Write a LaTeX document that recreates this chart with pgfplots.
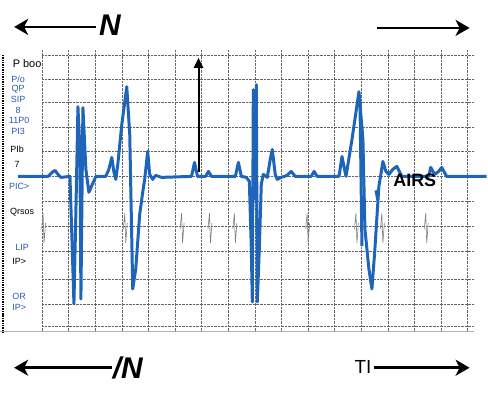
\documentclass[border=0pt]{standalone}
\usepackage{fontspec}
\setmainfont{Liberation Sans}
\usepackage{pgfplots}
\pgfplotsset{compat=1.18}
\usetikzlibrary{arrows.meta}
\definecolor{ecg}{RGB}{30,100,185}
\definecolor{lbl}{RGB}{40,90,175}
\begin{document}
\begin{tikzpicture}
\begin{axis}[
  scale only axis, width=433pt, height=282pt,
  xmin=42, xmax=475, ymin=74, ymax=356,
  axis line style={draw=none},
  xtick={42,68.7,95.4,122.1,148.8,175.5,202.2,228.9,255.6,282.3,309,335.7,362.4,389.1,415.8,442.5,469.2},
  ytick={79,101,126,154,179,204,229,254,278,303,326,350},
  xticklabels={}, yticklabels={},
  major tick length=0pt,
  grid=major,
  grid style={densely dotted, black!60, line width=0.7pt},
  clip=false,
  unbounded coords=jump,
]
\path (axis cs:0,0) rectangle (axis cs:488,406);
% faint background squiggles
\addplot[black!50, line width=0.6pt] coordinates {
(41.5,176) (43,192) (44,162) (45.5,182) (45.5,nan)
(123.5,176) (125,192) (126,162) (127.5,182) (127.5,nan)
(180.5,176) (182,192) (183,162) (184.5,182) (184.5,nan)
(208.5,176) (210,192) (211,162) (212.5,182) (212.5,nan)
(233.5,176) (235,192) (236,162) (237.5,182) (237.5,nan)
(306.5,176) (308,192) (309,162) (310.5,182) (310.5,nan)
(355.5,176) (357,192) (358,162) (359.5,182) (359.5,nan)
(381.5,176) (383,192) (384,162) (385.5,182) (385.5,nan)
(425.5,176) (427,192) (428,162) (429.5,182)
};
% main ECG trace
\addplot[ecg, line width=3pt, line join=round] coordinates {
(18,229) (48,229) (52,233) (55,235) (58,231) (61,228) (70,229)
(72,166) (74,101) (76,196) (78,299) (80,256) (81,106) (83,298) (86,236) (89,213) (92,220) (96,229)
(106,229) (109,236) (112,248) (114,234) (116,226) (118,241) (122,281) (127,319) (130,271) (133,116)
(136,136) (140,191) (143,213) (145,226) (148,254) (150,231) (153,226) (156,230) (162,228)
(192,229) (195,243) (198,229) (206,229) (209,234) (212,229) (236,229) (239,243) (242,229) (247,228)
(250,224) (252,156) (253,103) (254,316) (256,206) (257,321) (258,103) (260,156) (262,221) (264,231)
(268,228) (271,246) (273,256) (276,231) (278,226) (282,228) (288,230) (292,234) (296,229)
(312,229) (315,234) (318,229) (340,229) (343,249) (347,229) (353,266) (360,314) (364,266)
(366,176) (370,136) (373,116) (376,156) (380,219) (382,231) (384,244) (387,234) (390,231)
(394,236) (398,239) (403,229) (430,229) (432,238) (436,231) (440,234) (443,238) (448,229) (488,229)
};
\addplot[ecg, line width=3pt] coordinates {(361,306) (363,159)};
\addplot[ecg, line width=3pt] coordinates {(377,215) (379,205)};
% annotations
\draw[-{Triangle[length=10pt,width=9pt]}, line width=2pt] (axis cs:199,233) -- (axis cs:199,348);
\draw[-{Stealth[length=14pt,width=16pt,inset=4pt]}, line width=2.8pt] (axis cs:96,379) -- (axis cs:14,379);
\node at (axis cs:110,381) {\fontsize{30}{30}\selectfont\bfseries\itshape N};
\draw[-{Stealth[length=14pt,width=16pt,inset=4pt]}, line width=2.8pt] (axis cs:378,378) -- (axis cs:471,378);
\draw[-{Stealth[length=14pt,width=16pt,inset=4pt]}, line width=2.8pt] (axis cs:112,37) -- (axis cs:14,37);
\node at (axis cs:128,37) {\fontsize{30}{30}\selectfont\bfseries\itshape /N};
\node at (axis cs:364,38) {\fontsize{19}{19}\selectfont TI};
\draw[-{Stealth[length=14pt,width=16pt,inset=4pt]}, line width=2.8pt] (axis cs:375,37) -- (axis cs:471,37);
\node at (axis cs:416,225) {\fontsize{18}{18}\selectfont\bfseries AIRS};
% left side
\draw[densely dotted, line width=1.4pt] (axis cs:3,351) -- (axis cs:3,72);
\draw[black!30] (axis cs:0,74) -- (axis cs:475,74);
\node at (axis cs:27,342) {\fontsize{11}{11}\selectfont P boo};
\node[lbl] at (axis cs:18,326) {\fontsize{9}{9}\selectfont P/o};
\node[lbl] at (axis cs:18,316) {\fontsize{9}{9}\selectfont QP};
\node[lbl] at (axis cs:18,306) {\fontsize{9}{9}\selectfont SIP};
\node[lbl] at (axis cs:18,295) {\fontsize{9}{9}\selectfont 8};
\node[lbl] at (axis cs:19,285) {\fontsize{9}{9}\selectfont 11P0};
\node[lbl] at (axis cs:18,274) {\fontsize{9}{9}\selectfont PI3};
\node at (axis cs:17,256) {\fontsize{9}{9}\selectfont PIb};
\node at (axis cs:17,241) {\fontsize{9}{9}\selectfont 7};
\node[lbl] at (axis cs:19,219) {\fontsize{9}{9}\selectfont PIC>};
\node at (axis cs:22,193) {\fontsize{9}{9}\selectfont Qrsos};
\node[lbl] at (axis cs:22,158) {\fontsize{9}{9}\selectfont LIP};
\node at (axis cs:19,144) {\fontsize{9}{9}\selectfont IP>};
\node[lbl] at (axis cs:19,109) {\fontsize{9}{9}\selectfont OR};
\node[lbl] at (axis cs:19,98) {\fontsize{9}{9}\selectfont IP>};
\end{axis}
\end{tikzpicture}
\end{document}
